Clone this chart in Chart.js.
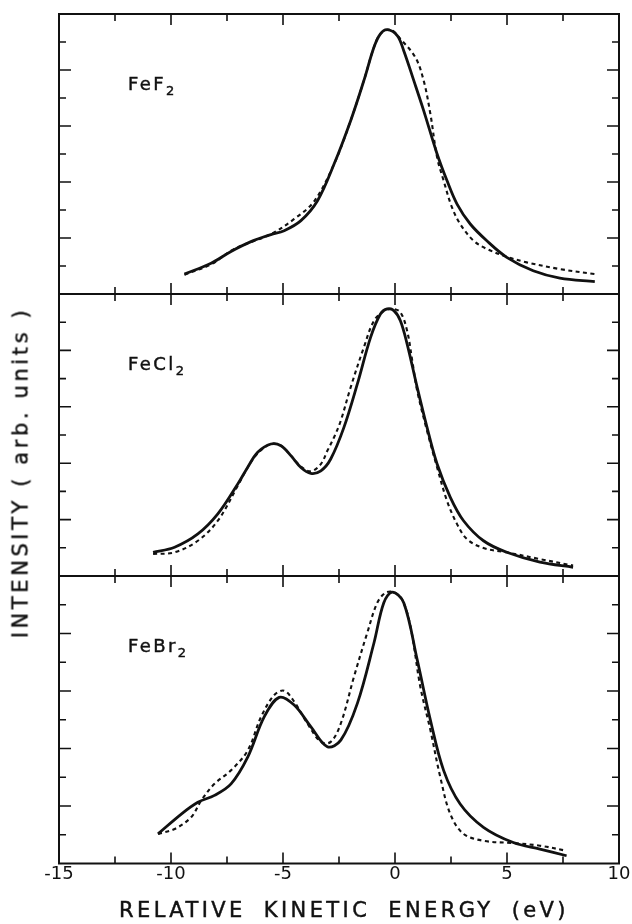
<!DOCTYPE html>
<html>
<head>
<meta charset="utf-8">
<script src="https://cdn.jsdelivr.net/npm/chart.js@4.4.1/dist/chart.umd.min.js"></script>
<style>
  body { margin: 0; background: #fff; width: 632px; height: 924px; position: relative; overflow: hidden;
         font-family: "DejaVu Sans", sans-serif; color: #111; }
  canvas { position: absolute; left: 0; }
  .lbl, #xtitle, #ytitle { -webkit-text-stroke: 0.45px #111; }
  .lbl { position: absolute; left: 128px; font-size: 18px; line-height: 18px; letter-spacing: 2.4px; }
  .lbl span { font-size: 13px; position: relative; top: 5px; }
  #xtitle { position: absolute; left: 28px; width: 632px; top: 900px; text-align: center;
            font-size: 21px; line-height: 21px; letter-spacing: 3.4px; word-spacing: 8px; }
  #ytitle { position: absolute; left: -179px; top: 462px; width: 400px; height: 21px; text-align: center;
            font-size: 21px; line-height: 21px; letter-spacing: 3.6px; transform: rotate(-90deg); }
</style>
</head>
<body>

<canvas id="c1" width="632" height="288" style="top:10px"></canvas>
<canvas id="c2" width="632" height="290" style="top:290px"></canvas>
<canvas id="c3" width="632" height="352" style="top:572px"></canvas>

<div class="lbl" style="top:75px">FeF<span>2</span></div>
<div class="lbl" style="top:355px">FeCl<span>2</span></div>
<div class="lbl" style="top:637px">FeBr<span>2</span></div>
<div id="xtitle">RELATIVE KINETIC ENERGY (eV)</div>
<div id="ytitle">INTENSITY ( arb. units )</div>

<script>
// energy axis
const xTickValues = [-15, -10, -5, 0, 5, 10];

// FeF2
const feF2SolidX = [-9.40,-8.21,-7.32,-6.43,-5.54,-4.95,-4.20,-3.46,-2.72,-1.98,-1.39,-0.94,-0.65,-0.35,0.10,0.39,0.84,1.28,1.88,2.32,2.77,3.36,4.10,4.99,6.17,7.36,8.92];
const feF2SolidY = [0.71,1.10,1.52,1.87,2.12,2.26,2.62,3.33,4.64,6.19,7.62,8.81,9.29,9.44,9.23,8.69,7.62,6.55,5.00,4.05,3.21,2.50,1.90,1.31,0.83,0.57,0.44];
const feF2DashX  = [-9.40,-8.21,-7.17,-5.54,-4.50,-3.61,-2.72,-1.98,-1.39,-0.94,-0.65,-0.20,0.24,0.91,1.28,1.58,1.88,2.17,2.54,2.91,3.51,4.10,4.99,5.88,7.36,8.92];
const feF2DashY  = [0.69,1.06,1.61,2.14,2.68,3.31,4.64,6.19,7.62,8.81,9.29,9.44,9.11,8.45,7.62,6.43,4.88,4.05,3.10,2.50,1.90,1.61,1.33,1.13,0.89,0.71];

// FeCl2
const feCl2SolidX = [-10.80,-9.84,-8.80,-7.91,-7.02,-6.58,-6.13,-5.54,-5.09,-4.65,-4.20,-3.76,-3.31,-2.87,-2.28,-1.68,-1.09,-0.65,-0.35,-0.05,0.24,0.54,0.99,1.43,1.88,2.47,3.06,3.95,4.99,6.47,7.95];
const feCl2SolidY = [0.84,1.02,1.49,2.20,3.26,3.85,4.39,4.68,4.62,4.27,3.85,3.64,3.73,4.15,5.27,6.81,8.46,9.29,9.47,9.41,9.05,8.23,6.69,5.27,3.97,2.79,1.96,1.25,0.84,0.49,0.31];
const feCl2DashX  = [-10.80,-9.84,-8.80,-7.91,-7.02,-6.58,-6.13,-5.54,-5.09,-4.65,-4.20,-3.76,-3.31,-3.02,-2.72,-2.42,-1.98,-1.39,-0.94,-0.50,-0.12,0.24,0.54,0.77,0.99,1.43,1.88,2.32,2.77,3.21,3.95,4.99,6.47,7.95];
const feCl2DashY  = [0.78,0.84,1.25,1.96,3.20,3.85,4.35,4.68,4.62,4.27,3.88,3.71,3.97,4.44,4.92,5.51,6.69,8.11,9.05,9.39,9.47,9.35,8.70,7.64,6.57,5.15,3.85,2.67,1.84,1.31,0.99,0.84,0.60,0.37];

// FeBr2
const feBr2SolidX = [-10.58,-9.54,-8.80,-8.06,-7.32,-6.57,-5.84,-5.17,-4.50,-3.76,-3.02,-2.42,-1.68,-0.94,-0.50,-0.12,0.39,0.99,1.58,2.17,2.91,3.95,5.28,6.47,7.66];
const feBr2SolidY = [1.03,1.72,2.13,2.37,2.77,3.71,5.10,5.78,5.51,4.76,4.06,4.29,5.57,7.67,9.07,9.44,9.07,7.09,4.99,3.24,2.07,1.26,0.73,0.50,0.27];
const feBr2DashX  = [-10.58,-9.84,-9.10,-8.65,-8.06,-7.32,-6.57,-5.98,-5.39,-4.95,-4.50,-3.91,-3.31,-2.87,-2.42,-1.83,-1.24,-0.79,-0.42,-0.05,0.32,0.69,1.13,1.58,2.02,2.47,3.06,3.95,5.28,6.47,7.66];
const feBr2DashY  = [1.03,1.20,1.61,2.19,2.77,3.24,3.94,5.10,5.86,6.01,5.63,4.87,4.23,4.23,4.87,6.50,8.02,9.07,9.42,9.44,9.18,8.25,6.15,4.64,3.01,1.72,1.03,0.79,0.71,0.62,0.44];

const INK = '#111';

function pts(xs, ys) {
  return xs.map((x, i) => ({ x: x, y: ys[i] }));
}

// frame plus inward ticks on all four sides
const frameTicks = {
  id: 'frameTicks',
  afterDatasetsDraw(chart) {
    const { ctx, chartArea: a, scales: { x, y } } = chart;
    ctx.save();
    ctx.strokeStyle = INK;
    ctx.lineWidth = 1.6;
    ctx.beginPath();
    for (let v = -12.5; v < 10; v += 2.5) {
      const px = x.getPixelForValue(v);
      const len = v % 5 === 0 ? 11 : 7;
      ctx.moveTo(px, a.top); ctx.lineTo(px, a.top + len);
      ctx.moveTo(px, a.bottom); ctx.lineTo(px, a.bottom - len);
    }
    for (let v = 1; v < 10; v++) {
      const py = y.getPixelForValue(v);
      const len = v % 2 === 0 ? 12 : 7;
      ctx.moveTo(a.left, py); ctx.lineTo(a.left + len, py);
      ctx.moveTo(a.right, py); ctx.lineTo(a.right - len, py);
    }
    ctx.stroke();
    ctx.lineWidth = 2;
    ctx.strokeRect(a.left, a.top, a.right - a.left, a.bottom - a.top);
    ctx.restore();
  }
};

function makePanel(id, solid, dashed, showX) {
  new Chart(document.getElementById(id), {
    type: 'line',
    data: {
      datasets: [
        {
          label: 'solid',
          data: solid,
          borderColor: INK,
          borderWidth: 2.8,
          pointRadius: 0,
          tension: 0.35,
          fill: false
        },
        {
          label: 'dashed',
          data: dashed,
          borderColor: INK,
          borderWidth: 2.1,
          borderDash: [4, 3.5],
          pointRadius: 0,
          tension: 0.35,
          fill: false
        }
      ]
    },
    options: {
      responsive: false,
      animation: false,
      events: [],
      layout: { padding: { left: 59, right: 13, top: 4, bottom: showX ? 0 : 4 } },
      plugins: { legend: { display: false }, tooltip: { enabled: false } },
      scales: {
        x: {
          type: 'linear',
          min: -15,
          max: 10,
          display: showX,
          grid: { display: false },
          border: { display: false },
          afterBuildTicks: (axis) => { axis.ticks = xTickValues.map(v => ({ value: v })); },
          afterFit: (axis) => { if (showX) axis.height = 60.5; },
          ticks: {
            color: INK,
            font: { family: 'DejaVu Sans', size: 18 },
            padding: -8,
            maxRotation: 0,
            autoSkip: false,
            callback: (v) => String(v)
          }
        },
        y: { min: 0, max: 10, display: false }
      }
    },
    plugins: [frameTicks]
  });
}

makePanel('c1', pts(feF2SolidX, feF2SolidY), pts(feF2DashX, feF2DashY), false);
makePanel('c2', pts(feCl2SolidX, feCl2SolidY), pts(feCl2DashX, feCl2DashY), false);
makePanel('c3', pts(feBr2SolidX, feBr2SolidY), pts(feBr2DashX, feBr2DashY), true);
</script>
</body>
</html>
